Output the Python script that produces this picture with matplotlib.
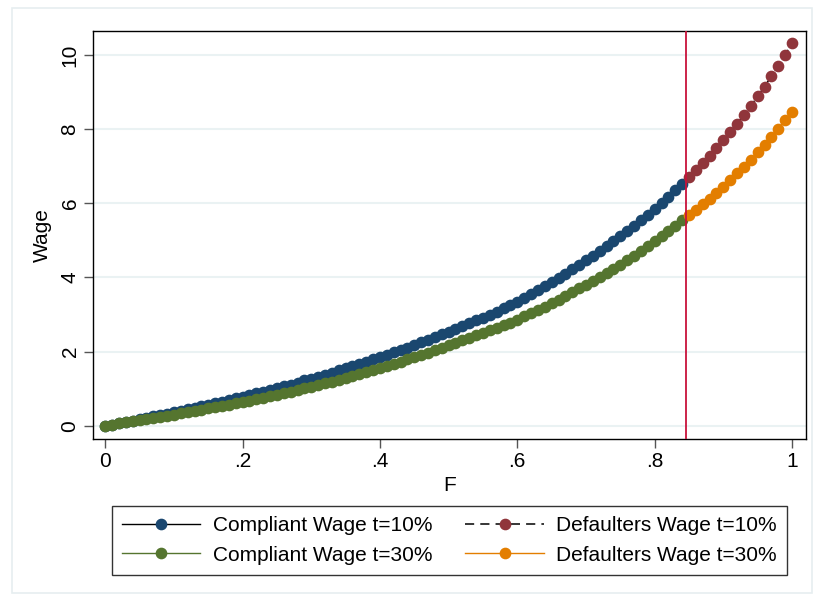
import numpy as np
import matplotlib
matplotlib.use('Agg')
import matplotlib.pyplot as plt
from matplotlib.patches import Rectangle

# Grid of F values (steps of 0.01), split at the cut-off
f_compliant = np.round(np.arange(0, 85) / 100, 2)
f_defaulters = np.round(np.arange(85, 101) / 100, 2)
cutoff = 0.845

# Wage, t=10%
wage10_compliant = [
    0.00, 0.03, 0.07, 0.10, 0.14, 0.18, 0.21, 0.25, 0.29, 0.32,
    0.36, 0.40, 0.44, 0.48, 0.52, 0.56, 0.61, 0.65, 0.69, 0.74,
    0.78, 0.83, 0.87, 0.92, 0.97, 1.01, 1.06, 1.11, 1.16, 1.22,
    1.27, 1.32, 1.38, 1.43, 1.49, 1.55, 1.60, 1.66, 1.72, 1.79,
    1.85, 1.91, 1.98, 2.04, 2.11, 2.18, 2.25, 2.32, 2.39, 2.47,
    2.54, 2.62, 2.69, 2.77, 2.85, 2.92, 3.00, 3.08, 3.17, 3.26,
    3.35, 3.45, 3.55, 3.65, 3.76, 3.87, 3.98, 4.10, 4.23, 4.35,
    4.47, 4.59, 4.71, 4.84, 4.98, 5.11, 5.25, 5.39, 5.54, 5.69,
    5.85, 6.01, 6.18, 6.35, 6.52,
]
wage10_defaulters = [
    6.70, 6.89, 7.08, 7.28, 7.49, 7.70, 7.92, 8.15, 8.39, 8.63,
    8.89, 9.15, 9.43, 9.71, 10.01, 10.32,
]

# Wage, t=30%
wage30_compliant = [
    0.00, 0.03, 0.06, 0.09, 0.12, 0.15, 0.18, 0.21, 0.24, 0.27,
    0.30, 0.33, 0.37, 0.40, 0.43, 0.47, 0.50, 0.54, 0.57, 0.61,
    0.65, 0.68, 0.72, 0.76, 0.80, 0.84, 0.88, 0.92, 0.97, 1.01,
    1.05, 1.10, 1.15, 1.19, 1.24, 1.29, 1.34, 1.39, 1.45, 1.50,
    1.56, 1.61, 1.67, 1.73, 1.79, 1.85, 1.91, 1.97, 2.04, 2.11,
    2.17, 2.24, 2.31, 2.38, 2.45, 2.50, 2.57, 2.64, 2.71, 2.78,
    2.86, 2.95, 3.03, 3.12, 3.21, 3.31, 3.40, 3.50, 3.61, 3.71,
    3.81, 3.91, 4.02, 4.13, 4.24, 4.35, 4.47, 4.59, 4.72, 4.84,
    4.98, 5.11, 5.25, 5.39, 5.54,
]
wage30_defaulters = [
    5.68, 5.82, 5.97, 6.13, 6.29, 6.45, 6.62, 6.81, 6.99, 7.18,
    7.38, 7.58, 7.79, 8.01, 8.24, 8.47,
]

x_ticks = [0, 0.2, 0.4, 0.6, 0.8, 1.0]
x_ticklabels = ['0', '.2', '.4', '.6', '.8', '1']
y_ticks = [0, 2, 4, 6, 8, 10]

navy = '#1a476f'
maroon = '#90353b'
forest = '#55752f'
dkorange = '#e37e00'
grid_col = '#eaf2f3'

plt.rcParams['font.family'] = ['Liberation Sans', 'DejaVu Sans']
plt.rcParams['font.size'] = 15

fig = plt.figure(figsize=(8.14, 5.95), dpi=100)
fig.patches.append(Rectangle((12 / 814, 2 / 595), 800 / 814, 585 / 595,
                             transform=fig.transFigure, fill=False,
                             edgecolor='#e6eef0', lw=1.2))
ax = fig.add_axes([92.7 / 814, 1 - 439.3 / 595, (806 - 92.7) / 814, (439.3 - 30.7) / 595])

ms = 7.4
ax.plot(f_compliant, wage10_compliant, color='black', lw=1, marker='o', ms=ms,
        mfc=navy, mec=navy, label='Compliant Wage t=10%', zorder=3)
ax.plot(f_defaulters, wage10_defaulters, color='black', lw=1.1, ls=(0, (6, 4)), marker='o', ms=ms,
        mfc=maroon, mec=maroon, label='Defaulters Wage t=10%', zorder=3)
ax.plot(f_compliant, wage30_compliant, color=forest, lw=1, marker='o', ms=ms,
        mfc=forest, mec=forest, label='Compliant Wage t=30%', zorder=3)
ax.plot(f_defaulters, wage30_defaulters, color=dkorange, lw=1, marker='o', ms=ms,
        mfc=dkorange, mec=dkorange, label='Defaulters Wage t=30%', zorder=3)

ax.axvline(cutoff, color='#c8123a', lw=1.3, zorder=4)

ax.set_xlim(-0.0183, 1.0204)
ax.set_ylim(-0.367, 10.66)
ax.set_xticks(x_ticks)
ax.set_xticklabels(x_ticklabels)
ax.set_yticks(y_ticks)
ax.set_yticklabels([str(v) for v in y_ticks], rotation=90, va='center')
ax.tick_params(direction='out', length=6.5, width=1, color='#555555', pad=3)
ax.yaxis.grid(True, color=grid_col, lw=1.5)
ax.set_axisbelow(True)
for s in ax.spines.values():
    s.set_linewidth(1)
    s.set_color('black')

ax.set_xlabel('F', labelpad=3)
ax.set_ylabel('Wage', labelpad=6)

handles, labels = ax.get_legend_handles_labels()
order = [0, 2, 1, 3]
leg = ax.legend([handles[i] for i in order], [labels[i] for i in order],
                ncol=2, loc='upper center', bbox_to_anchor=(0.5, -0.163),
                borderaxespad=0, numpoints=1, handlelength=3.75, handletextpad=0.6,
                columnspacing=1.6, borderpad=0.5, labelspacing=0.5,
                fancybox=False, framealpha=1, edgecolor='#333333')
leg.get_frame().set_linewidth(1)

fig.savefig('out.png', dpi=100)
